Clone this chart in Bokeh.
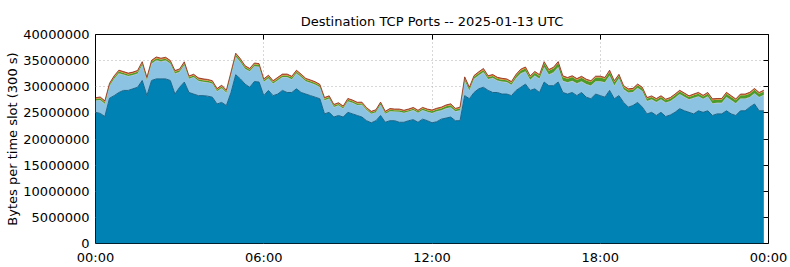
from bokeh.plotting import figure
from bokeh.models import (ColumnDataSource, Range1d, FixedTicker, LinearAxis,
                          BasicTickFormatter)
from bokeh.transform import stack
from bokeh.embed import file_html
from bokeh.resources import INLINE

# ---- data: 10-minute time slots, values in millions of bytes per slot ----
TITLE = "Destination TCP Ports -- 2025-01-13 UTC"
Y_LABEL = "Bytes per time slot (300 s)"
SLOT_MINUTES = 10
X_TICKS = [0, 6, 12, 18, 24]
X_TICK_LABELS = ["00:00", "06:00", "12:00", "18:00", "00:00"]
Y_TICKS = [0, 5000000, 10000000, 15000000, 20000000, 25000000, 30000000, 35000000, 40000000]

dark = [
    25.1, 24.9, 24.3, 27.8, 28.3, 28.9, 29.3, 29.3, 29.6, 29.9, 31.2, 28.3,
    31.2, 31.5, 31.5, 31.5, 31.2, 28.6, 29.9, 30.9, 28.9, 28.6, 28.3, 28.3,
    28.2, 28.0, 26.7, 27.0, 26.4, 28.9, 32.3, 31.5, 30.5, 29.9, 31.0, 30.9,
    28.3, 29.3, 28.3, 28.6, 29.3, 28.9, 28.9, 29.6, 28.9, 28.6, 28.3, 28.0,
    27.7, 24.8, 25.1, 24.2, 24.5, 24.2, 25.1, 24.8, 24.5, 24.2, 23.5, 23.1,
    23.5, 24.5, 23.2, 23.5, 23.5, 23.2, 23.2, 23.5, 23.7, 23.2, 23.8, 23.5,
    23.1, 23.3, 23.8, 24.0, 24.2, 23.5, 23.5, 28.3, 27.7, 28.9, 29.6, 29.9,
    29.3, 28.9, 28.9, 28.6, 28.6, 28.3, 29.3, 29.9, 30.5, 29.3, 29.6, 28.9,
    30.9, 30.2, 30.2, 30.9, 28.9, 28.6, 28.9, 28.3, 28.9, 28.0, 27.7, 28.6,
    28.3, 28.0, 29.3, 27.7, 28.3, 27.0, 26.1, 26.4, 27.0, 26.1, 24.8, 25.1,
    24.5, 25.1, 24.3, 24.6, 25.1, 25.8, 25.4, 25.1, 24.8, 25.4, 25.1, 25.4,
    24.5, 24.8, 24.8, 25.4, 24.8, 24.5, 25.4, 25.4, 26.1, 26.7, 25.4, 25.4,
]
light = [
    2.15, 2.45, 2.35, 2.25, 3.15, 3.55, 2.95, 2.65, 2.55, 2.55, 2.85, 2.85,
    3.15, 3.45, 3.25, 3.45, 3.15, 3.85, 2.85, 3.15, 2.55, 3.15, 2.75, 2.55,
    2.55, 2.55, 2.35, 2.65, 2.35, 3.25, 3.35, 3.15, 2.85, 2.95, 2.85, 2.85,
    2.55, 2.25, 2.25, 2.55, 2.45, 2.85, 2.45, 2.85, 2.85, 2.35, 2.35, 2.35,
    2.15, 2.55, 2.55, 1.85, 1.85, 1.55, 2.05, 2.05, 1.95, 2.25, 1.95, 1.65,
    1.55, 1.95, 1.55, 1.75, 1.65, 1.95, 1.75, 1.65, 1.75, 1.75, 1.65, 1.65,
    1.80, 1.90, 1.60, 1.80, 1.80, 1.70, 1.90, 2.80, 1.50, 2.50, 2.50, 2.80,
    2.10, 2.70, 2.20, 2.30, 2.20, 2.00, 2.25, 2.55, 2.35, 1.95, 2.45, 2.55,
    2.75, 2.05, 2.45, 2.75, 2.15, 2.15, 2.15, 2.25, 2.05, 2.45, 2.45, 2.35,
    2.65, 2.75, 2.75, 2.45, 3.20, 2.40, 2.70, 2.50, 2.70, 3.00, 2.40, 2.40,
    2.50, 2.40, 2.60, 2.60, 2.70, 2.70, 2.60, 2.40, 3.00, 2.70, 2.50, 2.70,
    2.25, 2.05, 2.05, 2.55, 2.55, 2.25, 2.25, 2.25, 1.85, 1.95, 2.55, 2.95,
]
grey = [
    0.10, 0.11, 0.10, 0.09, 0.10, 0.12, 0.10, 0.10, 0.11, 0.10, 0.12, 0.10,
    0.11, 0.12, 0.11, 0.10, 0.11, 0.10, 0.10, 0.11, 0.09, 0.10, 0.10, 0.10,
    0.10, 0.09, 0.09, 0.10, 0.09, 0.11, 0.12, 0.11, 0.10, 0.10, 0.11, 0.10,
    0.10, 0.10, 0.09, 0.10, 0.10, 0.11, 0.10, 0.11, 0.10, 0.10, 0.10, 0.09,
    0.09, 0.09, 0.09, 0.08, 0.09, 0.08, 0.09, 0.09, 0.08, 0.09, 0.08, 0.08,
    0.08, 0.09, 0.08, 0.08, 0.09, 0.08, 0.08, 0.09, 0.08, 0.08, 0.09, 0.08,
    0.09, 0.09, 0.10, 0.10, 0.10, 0.09, 0.10, 0.11, 0.10, 0.11, 0.11, 0.12,
    0.10, 0.11, 0.10, 0.10, 0.10, 0.10, 0.11, 0.12, 0.12, 0.10, 0.11, 0.11,
    0.12, 0.11, 0.12, 0.12, 0.11, 0.10, 0.11, 0.10, 0.11, 0.10, 0.10, 0.11,
    0.11, 0.10, 0.12, 0.10, 0.11, 0.10, 0.10, 0.10, 0.10, 0.10, 0.09, 0.09,
    0.09, 0.09, 0.09, 0.09, 0.10, 0.10, 0.10, 0.09, 0.10, 0.10, 0.09, 0.10,
    0.10, 0.10, 0.10, 0.11, 0.10, 0.10, 0.10, 0.10, 0.11, 0.11, 0.10, 0.11,
]
green = [
    0.30, 0.32, 0.30, 0.28, 0.30, 0.33, 0.30, 0.31, 0.30, 0.32, 0.35, 0.30,
    0.32, 0.35, 0.34, 0.33, 0.32, 0.30, 0.31, 0.34, 0.30, 0.29, 0.30, 0.31,
    0.30, 0.29, 0.28, 0.30, 0.28, 0.32, 0.36, 0.34, 0.32, 0.31, 0.33, 0.32,
    0.30, 0.31, 0.29, 0.30, 0.32, 0.31, 0.30, 0.33, 0.31, 0.30, 0.30, 0.29,
    0.29, 0.27, 0.28, 0.26, 0.27, 0.26, 0.28, 0.28, 0.27, 0.27, 0.26, 0.25,
    0.26, 0.28, 0.26, 0.27, 0.27, 0.27, 0.26, 0.27, 0.28, 0.26, 0.28, 0.27,
    0.33, 0.34, 0.35, 0.36, 0.37, 0.34, 0.35, 0.40, 0.36, 0.38, 0.39, 0.40,
    0.36, 0.37, 0.35, 0.36, 0.35, 0.34, 0.48, 0.52, 0.53, 0.48, 0.51, 0.50,
    0.75, 0.68, 0.70, 0.76, 0.68, 0.67, 0.69, 0.66, 0.68, 0.65, 0.66, 0.70,
    0.70, 0.68, 0.72, 0.66, 0.50, 0.46, 0.45, 0.44, 0.47, 0.45, 0.42, 0.43,
    0.42, 0.44, 0.41, 0.42, 0.45, 0.47, 0.45, 0.44, 0.46, 0.47, 0.44, 0.46,
    0.58, 0.57, 0.58, 0.62, 0.60, 0.58, 0.60, 0.60, 0.62, 0.65, 0.60, 0.62,
]
orange = [
    0.15, 0.16, 0.15, 0.14, 0.15, 0.16, 0.15, 0.15, 0.14, 0.15, 0.17, 0.15,
    0.16, 0.17, 0.16, 0.16, 0.15, 0.15, 0.15, 0.16, 0.14, 0.15, 0.15, 0.15,
    0.15, 0.14, 0.14, 0.15, 0.14, 0.16, 0.17, 0.16, 0.15, 0.15, 0.16, 0.15,
    0.15, 0.15, 0.14, 0.15, 0.15, 0.16, 0.15, 0.16, 0.15, 0.15, 0.15, 0.14,
    0.14, 0.14, 0.15, 0.14, 0.14, 0.13, 0.15, 0.14, 0.14, 0.15, 0.13, 0.13,
    0.13, 0.15, 0.13, 0.14, 0.14, 0.14, 0.13, 0.14, 0.14, 0.13, 0.14, 0.14,
    0.14, 0.15, 0.15, 0.15, 0.16, 0.14, 0.15, 0.17, 0.15, 0.16, 0.16, 0.17,
    0.15, 0.16, 0.15, 0.15, 0.15, 0.15, 0.16, 0.17, 0.17, 0.15, 0.16, 0.16,
    0.17, 0.16, 0.16, 0.17, 0.15, 0.15, 0.16, 0.15, 0.16, 0.15, 0.15, 0.16,
    0.16, 0.15, 0.17, 0.15, 0.16, 0.15, 0.15, 0.15, 0.15, 0.15, 0.14, 0.14,
    0.14, 0.15, 0.14, 0.14, 0.15, 0.15, 0.15, 0.14, 0.15, 0.15, 0.14, 0.15,
    0.15, 0.14, 0.14, 0.15, 0.15, 0.14, 0.15, 0.15, 0.16, 0.16, 0.15, 0.16,
]
red = [
    0.10, 0.10, 0.10, 0.09, 0.10, 0.11, 0.10, 0.10, 0.10, 0.10, 0.11, 0.10,
    0.11, 0.11, 0.11, 0.10, 0.10, 0.10, 0.10, 0.11, 0.09, 0.10, 0.10, 0.10,
    0.10, 0.09, 0.09, 0.10, 0.09, 0.10, 0.12, 0.11, 0.10, 0.10, 0.10, 0.10,
    0.10, 0.10, 0.09, 0.10, 0.10, 0.10, 0.10, 0.11, 0.10, 0.10, 0.10, 0.09,
    0.09, 0.09, 0.09, 0.09, 0.09, 0.08, 0.09, 0.09, 0.09, 0.09, 0.08, 0.08,
    0.08, 0.09, 0.08, 0.09, 0.09, 0.09, 0.08, 0.09, 0.09, 0.08, 0.09, 0.09,
    0.09, 0.10, 0.10, 0.10, 0.10, 0.09, 0.10, 0.11, 0.10, 0.10, 0.10, 0.11,
    0.10, 0.10, 0.10, 0.10, 0.10, 0.10, 0.10, 0.11, 0.11, 0.10, 0.10, 0.10,
    0.11, 0.10, 0.10, 0.11, 0.10, 0.10, 0.10, 0.10, 0.10, 0.10, 0.10, 0.10,
    0.10, 0.10, 0.11, 0.10, 0.10, 0.10, 0.10, 0.10, 0.10, 0.10, 0.09, 0.09,
    0.09, 0.10, 0.09, 0.09, 0.10, 0.10, 0.10, 0.09, 0.10, 0.10, 0.09, 0.10,
    0.10, 0.09, 0.09, 0.10, 0.10, 0.09, 0.10, 0.10, 0.10, 0.10, 0.10, 0.10,
]

SERIES = ["dark", "light", "grey", "green", "orange", "red"]
FILLS = ["#0082b4", "#8cc3e3", "#a3abb0", "#4c9a2a", "#e0801c", "#c0401e"]

# ---- build source (values converted from millions to bytes) ----
M = 1_000_000
cols = {"dark": dark, "light": light, "grey": grey, "green": green,
        "orange": orange, "red": red}
data = {k: [v * M for v in vals] for k, vals in cols.items()}
data["x"] = [i * SLOT_MINUTES / 60.0 for i in range(len(dark))]
src = ColumnDataSource(data)

FONT = "DejaVu Sans"

p = figure(width=790, height=267, output_backend="svg", toolbar_location=None,
           x_range=Range1d(0, 24), y_range=Range1d(0, 40 * M),
           min_border_left=95, min_border_right=22, min_border_top=34,
           min_border_bottom=24, y_axis_location=None, x_axis_location=None,
           background_fill_color="white", border_fill_color="white")

p.title.text = TITLE
p.title.align = "center"
p.title.text_font = FONT
p.title.text_font_size = "13px"
p.title.text_font_style = "normal"
p.title.text_color = "#000000"
p.title.standoff = 12

# stacked areas
p.varea_stack(SERIES, x="x", source=src, color=FILLS)
p.line(x="x", y=stack("dark"), source=src, line_color="#1a6488", line_width=1)
p.line(x="x", y=stack(*SERIES), source=src, line_color="#8a2a14", line_width=0.8)

# axes
left = LinearAxis(ticker=FixedTicker(ticks=Y_TICKS),
                  formatter=BasicTickFormatter(use_scientific=False),
                  axis_label=Y_LABEL)
bottom = LinearAxis(ticker=FixedTicker(ticks=X_TICKS),
                    major_label_overrides={t: l for t, l in zip(X_TICKS, X_TICK_LABELS)})
for ax in (left, bottom):
    ax.major_tick_in = 0
    ax.major_tick_out = 0
    ax.minor_tick_in = 0
    ax.minor_tick_out = 0
    ax.axis_line_color = None
    ax.major_label_text_font = FONT
    ax.major_label_text_font_size = "13px"
    ax.major_label_text_color = "#000000"
    ax.axis_label_text_font = FONT
    ax.axis_label_text_font_size = "13px"
    ax.axis_label_text_font_style = "normal"
    ax.axis_label_text_color = "#000000"
left.major_label_standoff = 6
left.axis_label_standoff = 0
bottom.major_label_standoff = 6
p.add_layout(left, "left")
p.add_layout(bottom, "below")

right = LinearAxis(ticker=FixedTicker(ticks=Y_TICKS),
                   major_label_overrides={t: "" for t in Y_TICKS})
top = LinearAxis(ticker=FixedTicker(ticks=X_TICKS),
                 major_label_overrides={t: "" for t in X_TICKS})
for ax in (right, top):
    ax.major_tick_in = 5
    ax.major_tick_out = 0
    ax.minor_tick_in = 0
    ax.minor_tick_out = 0
    ax.axis_line_color = None
    ax.major_tick_line_color = "#000000"
    ax.major_label_standoff = 0
p.add_layout(right, "right")
p.add_layout(top, "above")

# grid: dotted grey
p.xgrid.ticker = FixedTicker(ticks=X_TICKS)
p.ygrid.ticker = FixedTicker(ticks=Y_TICKS)
for g in (p.xgrid, p.ygrid):
    g.grid_line_color = "#b0b0b0"
    g.grid_line_dash = "1 3"
    g.grid_line_width = 1

p.outline_line_color = "#000000"
p.outline_line_width = 1
p.outline_line_alpha = 1

open("out.html", "w").write(file_html(p, INLINE))
